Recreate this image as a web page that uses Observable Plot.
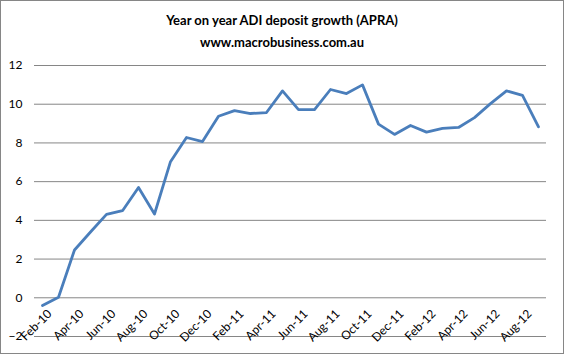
<!DOCTYPE html>
<html>
<head>
<meta charset="utf-8">
<script src="https://cdn.jsdelivr.net/npm/d3@7"></script>
<script src="https://cdn.jsdelivr.net/npm/@observablehq/plot@0.6"></script>
<style>
  html, body { margin: 0; padding: 0; background: #fff; }
  #chart { width: 562px; height: 352px; border: 1px solid #868686; position: relative; overflow: hidden; font-family: Lato, "Liberation Sans", sans-serif; }
  .t { text-align: center; font-weight: bold; font-size: 13px; color: #000; line-height: 22px; }
  #titles { height: 49px; padding-top: 8px; box-sizing: border-box; }
  svg { display: block; }
</style>
</head>
<body>
<div id="chart">
  <div id="titles">
    <div class="t">Year on year ADI deposit growth (APRA)</div>
    <div class="t">www.macrobusiness.com.au</div>
  </div>
</div>
<script>
const months = ["Feb-10","Mar-10","Apr-10","May-10","Jun-10","Jul-10","Aug-10","Sep-10","Oct-10","Nov-10","Dec-10",
  "Jan-11","Feb-11","Mar-11","Apr-11","May-11","Jun-11","Jul-11","Aug-11","Sep-11","Oct-11","Nov-11","Dec-11",
  "Jan-12","Feb-12","Mar-12","Apr-12","May-12","Jun-12","Jul-12","Aug-12","Sep-12"];
const growth = [-0.4, 0.03, 2.47, 3.4, 4.31, 4.5, 5.7, 4.33, 7.03, 8.28, 8.07,
  9.38, 9.67, 9.52, 9.57, 10.69, 9.72, 9.72, 10.76, 10.55, 11.0, 8.97, 8.44,
  8.9, 8.56, 8.75, 8.8, 9.31, 10.03, 10.69, 10.46, 8.83];
const xTickLabels = ["Feb-10","Apr-10","Jun-10","Aug-10","Oct-10","Dec-10","Feb-11","Apr-11","Jun-11","Aug-11","Oct-11","Dec-11","Feb-12","Apr-12","Jun-12","Aug-12"];
const yTicks = [-2, 0, 2, 4, 6, 8, 10, 12];

const data = months.map((m, i) => ({month: m, value: growth[i]}));

const plot = Plot.plot({
  width: 562,
  height: 303,
  marginTop: 15,
  marginBottom: 17,
  marginLeft: 33,
  marginRight: 17,
  style: {fontFamily: "Lato, 'Liberation Sans', sans-serif", fontSize: "12px", color: "#000", background: "#fff"},
  x: {type: "point", domain: months, padding: 0.5, axis: null},
  y: {domain: [-2, 12], axis: null},
  marks: [
    Plot.ruleY(yTicks, {stroke: "#868686", strokeWidth: 1, strokeOpacity: 1}),
    Plot.ruleX([0], {frameAnchor: "left", y1: -2, y2: 12, stroke: "#868686"}),
    Plot.axisY(yTicks, {tickSize: 0, tickPadding: 12, fontSize: 12, fill: "#000", label: null}),
    Plot.line(data, {x: "month", y: "value", stroke: "#4a7ebb", strokeWidth: 2.8, strokeLinejoin: "round", strokeLinecap: "round"}),
    Plot.text(xTickLabels, {x: d => d, frameAnchor: "bottom", rotate: -45, textAnchor: "end", lineAnchor: "top", dx: 4, dy: -28, fontSize: 12, fill: "#000"})
  ]
});
document.getElementById("chart").appendChild(plot);
</script>
</body>
</html>
